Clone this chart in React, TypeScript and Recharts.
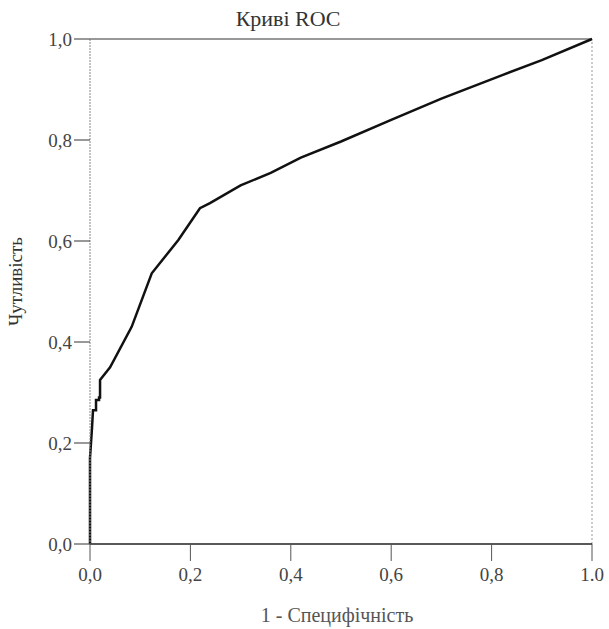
import React from "react";
import {
  LineChart,
  Line,
  XAxis,
  YAxis,
  ReferenceLine,
  Label,
} from "recharts";

// ROC curve points (1 - specificity, sensitivity)
const fpr = [
  0, 0, 0.002, 0.004, 0.006, 0.012, 0.012, 0.018, 0.018, 0.02, 0.02, 0.04,
  0.083, 0.123, 0.176, 0.219, 0.239, 0.3, 0.36, 0.42, 0.5, 0.6, 0.7, 0.82,
  0.9, 1,
];
const tpr = [
  0, 0.17, 0.2, 0.23, 0.265, 0.265, 0.285, 0.285, 0.29, 0.29, 0.325, 0.35,
  0.43, 0.536, 0.602, 0.665, 0.675, 0.71, 0.735, 0.765, 0.797, 0.84, 0.882,
  0.928, 0.958, 1,
];

const ticks = [0, 0.2, 0.4, 0.6, 0.8, 1];
const xTickLabels = ["0,0", "0,2", "0,4", "0,6", "0,8", "1.0"];
const yTickLabels = ["0,0", "0,2", "0,4", "0,6", "0,8", "1,0"];

const title = "Криві ROC";
const xTitle = "1 - Специфічність";
const yTitle = "Чутливість";

const data = fpr.map((x, i) => ({ x, y: tpr[i] }));

const font = "'Liberation Serif', 'DejaVu Serif', 'Times New Roman', serif";
const tickStyle = { fontFamily: font, fontSize: 19, fill: "#444" };

export default function App() {
  return (
    <div
      style={{
        position: "fixed",
        top: 0,
        left: 0,
        width: 609,
        height: 629,
        background: "#fff",
      }}
    >
      <div
        style={{
          position: "absolute",
          top: 6,
          left: 218,
          width: 140,
          textAlign: "center",
          fontFamily: font,
          fontSize: 22,
          color: "#333",
        }}
      >
        {title}
      </div>
      <LineChart
        width={609}
        height={629}
        data={data}
        margin={{ top: 39, right: 17, left: 10, bottom: 5 }}
      >
        <XAxis
          dataKey="x"
          type="number"
          domain={[0, 1]}
          ticks={ticks}
          tickFormatter={(v: number) => xTickLabels[ticks.indexOf(v)]}
          tick={{ ...tickStyle, dy: 5 }}
          tickSize={17}
          tickLine={{ stroke: "#555" }}
          axisLine={{ stroke: "#222", strokeWidth: 1.5 }}
          height={80}
        >
          <Label
            value={xTitle}
            position="insideBottom"
            offset={2}
            dx={-4}
            style={{ fontFamily: font, fontSize: 20, fill: "#555" }}
          />
        </XAxis>
        <YAxis
          type="number"
          domain={[0, 1]}
          ticks={ticks}
          tickFormatter={(v: number) => yTickLabels[ticks.indexOf(v)]}
          tick={tickStyle}
          tickSize={16}
          tickLine={{ stroke: "#333" }}
          axisLine={{ stroke: "#888", strokeDasharray: "2 1" }}
          width={80}
        >
          <Label
            value={yTitle}
            angle={-90}
            position="insideLeft"
            offset={0}
            dx={5}
            dy={-10}
            style={{
              fontFamily: font,
              fontSize: 19,
              fill: "#333",
              textAnchor: "middle",
            }}
          />
        </YAxis>
        <ReferenceLine y={1} stroke="#333" strokeWidth={1.2} />
        <ReferenceLine x={1} stroke="#999" strokeDasharray="2 2" />
        <Line
          type="linear"
          dataKey="y"
          stroke="#111"
          strokeWidth={2.5}
          dot={false}
          isAnimationActive={false}
        />
      </LineChart>
    </div>
  );
}
